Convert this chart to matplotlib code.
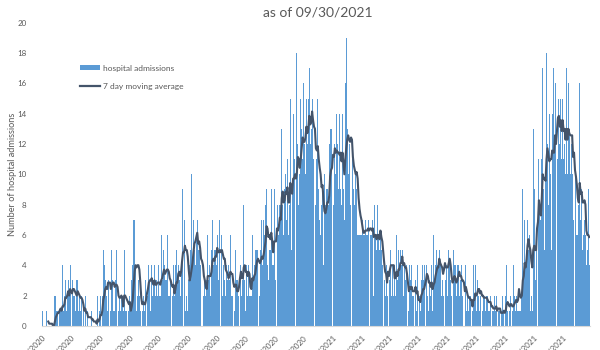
import matplotlib
matplotlib.use("Agg")
import matplotlib.pyplot as plt
from matplotlib.patches import Patch
from matplotlib.lines import Line2D
import numpy as np
import pandas as pd

plt.rcParams["font.family"] = ["Lato", "DejaVu Sans"]

# daily hospital admissions, one list per month (series starts 3/3/2020)
mar_2020 = [1, 0, 0, 0, 1, 0, 0, 0, 0, 0, 0, 0, 0, 2, 2, 1, 1, 0, 1, 1, 1, 4, 1, 2, 3, 1, 2, 3, 2]
apr_2020 = [4, 1, 2, 3, 2, 2, 1, 3, 3, 1, 2, 1, 2, 0, 1, 0, 2, 0, 1, 0, 0, 1, 0, 1, 0, 0, 0, 0, 0, 2]
may_2020 = [0, 1, 2, 0, 2, 5, 4, 3, 2, 1, 3, 2, 5, 1, 5, 3, 1, 1, 3, 5, 0, 1, 2, 1, 2, 2, 1, 5, 1, 1, 0]
jun_2020 = [1, 1, 2, 1, 3, 4, 7, 7, 4, 1, 2, 3, 2, 1, 0, 1, 2, 1, 3, 4, 4, 2, 4, 3, 1, 4, 2, 3, 4, 2]
jul_2020 = [3, 2, 4, 2, 2, 6, 3, 5, 4, 2, 3, 3, 6, 2, 2, 3, 0, 2, 4, 2, 4, 5, 3, 4, 3, 2, 4, 9, 9, 3, 7]
aug_2020 = [1, 2, 1, 3, 4, 5, 10, 4, 7, 5, 4, 6, 7, 5, 5, 4, 0, 3, 4, 2, 3, 2, 3, 6, 3, 4, 2, 5, 7, 4, 5]
sep_2020 = [5, 4, 6, 3, 7, 5, 4, 6, 2, 4, 3, 2, 4, 3, 4, 3, 6, 2, 2, 0, 1, 5, 3, 3, 2, 4, 4, 4, 2, 3]
oct_2020 = [8, 3, 1, 4, 2, 4, 2, 2, 2, 6, 3, 4, 5, 5, 5, 3, 5, 2, 5, 7, 4, 7, 6, 8, 9, 4, 3, 5, 5, 9, 4]
nov_2020 = [4, 9, 3, 5, 11, 8, 6, 8, 8, 13, 8, 6, 9, 10, 7, 11, 6, 8, 15, 5, 9, 14, 11, 8, 6, 18, 12, 8, 10, 15]
dec_2020 = [13, 11, 16, 12, 10, 15, 12, 15, 17, 12, 13, 15, 11, 9, 14, 8, 11, 15, 9, 7, 6, 8, 9, 4, 10, 8, 9, 9, 8, 12, 13]
jan_2021 = [13, 9, 15, 8, 12, 10, 14, 12, 9, 14, 9, 8, 14, 9, 7, 16, 19, 13, 10, 12, 8, 9, 15, 11, 9, 8, 10, 9, 6, 6, 6]
feb_2021 = [6, 6, 7, 6, 6, 7, 6, 6, 7, 6, 7, 6, 6, 7, 2, 8, 6, 5, 8, 6, 5, 6, 5, 4, 0, 3, 2, 4]
mar_2021 = [2, 10, 2, 3, 5, 2, 4, 2, 4, 2, 6, 3, 5, 4, 5, 4, 5, 2, 4, 3, 4, 2, 0, 1, 4, 3, 4, 2, 2, 0, 3]
apr_2021 = [1, 4, 0, 2, 1, 3, 4, 3, 4, 2, 4, 4, 2, 1, 3, 2, 4, 1, 6, 3, 4, 5, 4, 4, 5, 4, 2, 3, 2, 6]
may_2021 = [7, 3, 4, 2, 5, 4, 3, 2, 0, 5, 4, 4, 2, 4, 4, 2, 3, 4, 2, 2, 3, 0, 4, 1, 2, 1, 2, 2, 0, 1, 4]
jun_2021 = [2, 4, 1, 3, 2, 1, 2, 3, 2, 1, 2, 2, 1, 2, 2, 1, 1, 2, 0, 1, 1, 2, 1, 2, 0, 1, 1, 1, 0, 1]
jul_2021 = [2, 1, 0, 2, 4, 1, 0, 1, 2, 0, 1, 4, 2, 1, 2, 1, 1, 6, 1, 1, 2, 9, 3, 7, 4, 5, 7, 5, 6, 1, 2]
aug_2021 = [1, 13, 9, 3, 6, 11, 5, 11, 8, 7, 11, 17, 9, 5, 10, 18, 12, 8, 14, 10, 5, 14, 17, 12, 16, 10, 16, 11, 15, 12, 15]
sep_2021 = [11, 15, 11, 12, 10, 17, 10, 16, 13, 10, 12, 10, 7, 12, 8, 10, 6, 6, 8, 16, 7, 9, 5, 6, 7, 6, 4, 5, 9, 4]

months = [mar_2020, apr_2020, may_2020, jun_2020, jul_2020, aug_2020, sep_2020,
          oct_2020, nov_2020, dec_2020, jan_2021, feb_2021, mar_2021, apr_2021,
          may_2021, jun_2021, jul_2021, aug_2021, sep_2021]
admissions = np.concatenate([np.array(m, dtype=float) for m in months])
dates = pd.date_range("2020-03-03", periods=len(admissions), freq="D")
moving_avg = pd.Series(admissions).rolling(7).mean()

tick_dates = pd.date_range("2020-03-03", "2021-09-30", freq=pd.DateOffset(months=1))
tick_labels = [f"{d.month}/{d.day}/{d.year}" for d in tick_dates]

grey = "#595959"
fig = plt.figure(figsize=(6, 3.5), dpi=100)
ax = fig.add_axes([0.07, 0.069, 0.913, 0.866])

ax.bar(dates, admissions, width=0.95, color="#5B9BD5", linewidth=0)
ax.plot(dates, moving_avg, color="#44546A", linewidth=1.5)

ax.set_xlim(dates[0] - pd.Timedelta(days=0.6), dates[-1] + pd.Timedelta(days=0.6))
ax.set_ylim(0, 20)
ax.set_yticks(range(0, 21, 2))
ax.set_xticks(tick_dates)
ax.set_xticklabels(tick_labels, rotation=45, ha="right", rotation_mode="anchor")
ax.tick_params(axis="both", length=0, labelsize=5.8, labelcolor=grey)
ax.tick_params(axis="y", pad=11)
ax.tick_params(axis="x", pad=6)

for side in ("top", "right", "left"):
    ax.spines[side].set_visible(False)
ax.spines["bottom"].set_color("#D9D9D9")

ax.set_ylabel("Number of hospital admissions", fontsize=6.6, color=grey)
ax.yaxis.set_label_coords(-0.045, 0.5)

fig.text(0.53, 0.963, "as of 09/30/2021", ha="center", va="center",
         fontsize=10, color=grey)

handles = [Patch(facecolor="#5B9BD5", edgecolor="none"),
           Line2D([], [], color="#44546A", linewidth=1.6)]
fig.legend(handles, ["hospital admissions", "7 day moving average"],
           loc="upper left", bbox_to_anchor=(0.133, 0.815), frameon=False,
           fontsize=6, labelcolor=grey, handlelength=2.4, handleheight=0.6,
           handletextpad=0.4, labelspacing=1.3, borderpad=0, borderaxespad=0)

fig.savefig("out.png", dpi=100)
